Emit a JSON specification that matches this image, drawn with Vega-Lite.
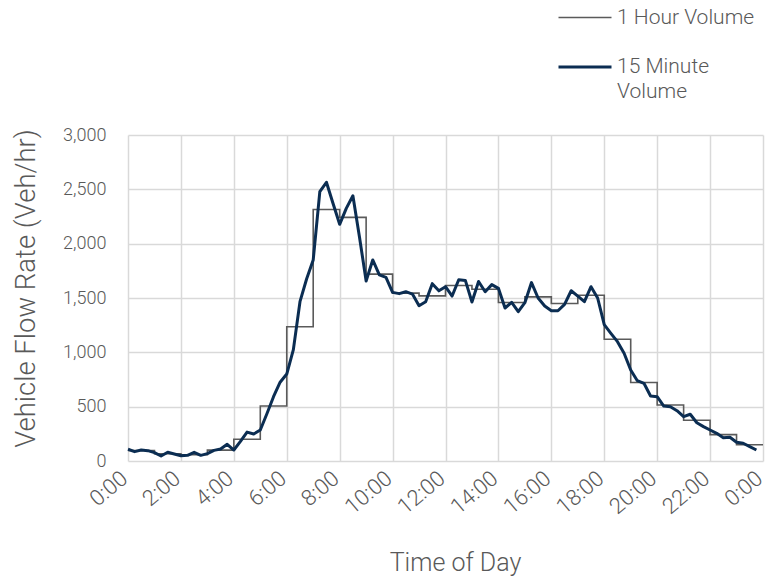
{
  "$schema": "https://vega.github.io/schema/vega-lite/v6.json",
  "width": 635,
  "height": 326,
  "autosize": {"type": "none"},
  "padding": {"left": 128, "top": 135, "right": 5, "bottom": 118},
  "background": "white",
  "config": {
    "view": {"stroke": null},
    "font": "Roboto",
    "style": {"guide-label": {"lineHeight": 25}},
    "axis": {
      "labelColor": "#595959",
      "titleColor": "#595959",
      "labelFont": "Roboto",
      "titleFont": "Roboto",
      "labelFontWeight": 300,
      "titleFontWeight": 300,
      "gridColor": "#d9d9d9",
      "gridWidth": 1.5,
      "domain": false,
      "ticks": false
    },
    "legend": {
      "labelColor": "#595959",
      "labelFont": "Roboto",
      "labelFontWeight": 300
    }
  },
  "datasets": {
    "hourly": [
      {"hour": 0, "value": 97}, {"hour": 1, "value": 67}, {"hour": 2, "value": 58}, {"hour": 3, "value": 100},
      {"hour": 4, "value": 200}, {"hour": 5, "value": 506}, {"hour": 6, "value": 1236}, {"hour": 7, "value": 2315},
      {"hour": 8, "value": 2242}, {"hour": 9, "value": 1720}, {"hour": 10, "value": 1545}, {"hour": 11, "value": 1520},
      {"hour": 12, "value": 1615}, {"hour": 13, "value": 1580}, {"hour": 14, "value": 1458}, {"hour": 15, "value": 1510},
      {"hour": 16, "value": 1450}, {"hour": 17, "value": 1525}, {"hour": 18, "value": 1120}, {"hour": 19, "value": 722},
      {"hour": 20, "value": 515}, {"hour": 21, "value": 375}, {"hour": 22, "value": 243}, {"hour": 23, "value": 150},
      {"hour": 24, "value": 150}
    ],
    "quarter": [
      {"hour": 0, "value": 108}, {"hour": 0.25, "value": 86}, {"hour": 0.5, "value": 101}, {"hour": 0.75, "value": 95},
      {"hour": 1, "value": 77}, {"hour": 1.25, "value": 46}, {"hour": 1.5, "value": 80}, {"hour": 1.75, "value": 64},
      {"hour": 2, "value": 49}, {"hour": 2.25, "value": 52}, {"hour": 2.5, "value": 80}, {"hour": 2.75, "value": 52},
      {"hour": 3, "value": 68}, {"hour": 3.25, "value": 98}, {"hour": 3.5, "value": 110}, {"hour": 3.75, "value": 154},
      {"hour": 4, "value": 101}, {"hour": 4.25, "value": 180}, {"hour": 4.5, "value": 266}, {"hour": 4.75, "value": 248},
      {"hour": 5, "value": 285}, {"hour": 5.25, "value": 435}, {"hour": 5.5, "value": 592}, {"hour": 5.75, "value": 725},
      {"hour": 6, "value": 800}, {"hour": 6.25, "value": 1025}, {"hour": 6.5, "value": 1466}, {"hour": 6.75, "value": 1675},
      {"hour": 7, "value": 1850}, {"hour": 7.25, "value": 2478}, {"hour": 7.5, "value": 2565}, {"hour": 7.75, "value": 2370},
      {"hour": 8, "value": 2178}, {"hour": 8.25, "value": 2325}, {"hour": 8.5, "value": 2441}, {"hour": 8.75, "value": 2060},
      {"hour": 9, "value": 1656}, {"hour": 9.25, "value": 1850}, {"hour": 9.5, "value": 1712}, {"hour": 9.75, "value": 1690},
      {"hour": 10, "value": 1552}, {"hour": 10.25, "value": 1540}, {"hour": 10.5, "value": 1558}, {"hour": 10.75, "value": 1536},
      {"hour": 11, "value": 1429}, {"hour": 11.25, "value": 1466}, {"hour": 11.5, "value": 1632}, {"hour": 11.75, "value": 1566},
      {"hour": 12, "value": 1604}, {"hour": 12.25, "value": 1518}, {"hour": 12.5, "value": 1668}, {"hour": 12.75, "value": 1662},
      {"hour": 13, "value": 1463}, {"hour": 13.25, "value": 1652}, {"hour": 13.5, "value": 1558}, {"hour": 13.75, "value": 1623},
      {"hour": 14, "value": 1589}, {"hour": 14.25, "value": 1408}, {"hour": 14.5, "value": 1460}, {"hour": 14.75, "value": 1374},
      {"hour": 15, "value": 1457}, {"hour": 15.25, "value": 1642}, {"hour": 15.5, "value": 1500}, {"hour": 15.75, "value": 1426},
      {"hour": 16, "value": 1383}, {"hour": 16.25, "value": 1383}, {"hour": 16.5, "value": 1442}, {"hour": 16.75, "value": 1567},
      {"hour": 17, "value": 1518}, {"hour": 17.25, "value": 1466}, {"hour": 17.5, "value": 1604}, {"hour": 17.75, "value": 1500},
      {"hour": 18, "value": 1255}, {"hour": 18.25, "value": 1175}, {"hour": 18.5, "value": 1098}, {"hour": 18.75, "value": 991},
      {"hour": 19, "value": 837}, {"hour": 19.25, "value": 739}, {"hour": 19.5, "value": 715}, {"hour": 19.75, "value": 598},
      {"hour": 20, "value": 592}, {"hour": 20.25, "value": 506}, {"hour": 20.5, "value": 500}, {"hour": 20.75, "value": 463},
      {"hour": 21, "value": 408}, {"hour": 21.25, "value": 430}, {"hour": 21.5, "value": 352}, {"hour": 21.75, "value": 316},
      {"hour": 22, "value": 285}, {"hour": 22.25, "value": 255}, {"hour": 22.5, "value": 214}, {"hour": 22.75, "value": 218},
      {"hour": 23, "value": 172}, {"hour": 23.25, "value": 163}, {"hour": 23.5, "value": 132}, {"hour": 23.75, "value": 101}
    ]
  },
  "encoding": {
    "x": {
      "field": "hour", "type": "quantitative",
      "scale": {"domain": [0, 24], "nice": false, "zero": false},
      "axis": {
        "values": [0, 2, 4, 6, 8, 10, 12, 14, 16, 18, 20, 22, 24],
        "labelExpr": "(datum.value % 24) + ':00'",
        "labelAngle": -40,
        "labelAlign": "right",
        "labelBaseline": "middle",
        "labelFontSize": 22,
        "labelPadding": 14,
        "labelOffset": -4,
        "labelOverlap": false,
        "labelBound": false,
        "title": "Time of Day",
        "titleFontSize": 25,
        "titlePadding": 33,
        "titleX": 327
      }
    },
    "y": {
      "field": "value", "type": "quantitative",
      "scale": {"domain": [0, 3000], "nice": false},
      "axis": {
        "values": [0, 500, 1000, 1500, 2000, 2500, 3000],
        "format": ",.0f",
        "labelFontSize": 18,
        "labelPadding": 22,
        "title": "Vehicle Flow Rate (Veh/hr)",
        "titleFontSize": 27.5,
        "titlePadding": 22,
        "titleY": 153
      }
    },
    "color": {
      "field": "series", "type": "nominal",
      "scale": {"domain": ["1 Hour Volume", "15 Minute Volume"], "range": ["#5a5a5a", "#0b2d52"]},
      "legend": {
        "title": null,
        "orient": "none",
        "legendX": 429,
        "legendY": -145,
        "symbolType": "stroke",
        "symbolSize": 2809,
        "labelFontSize": 21,
        "labelOffset": 4,
        "rowPadding": 11,
        "labelExpr": "datum.label == '15 Minute Volume' ? ['15 Minute', 'Volume'] : datum.label"
      }
    },
    "strokeWidth": {
      "field": "series", "type": "nominal",
      "scale": {"domain": ["1 Hour Volume", "15 Minute Volume"], "range": [1.6, 3]},
      "legend": {
        "title": null,
        "orient": "none",
        "legendX": 429,
        "legendY": -145,
        "symbolType": "stroke",
        "symbolSize": 2809,
        "labelFontSize": 21,
        "labelOffset": 4,
        "rowPadding": 11,
        "labelExpr": "datum.label == '15 Minute Volume' ? ['15 Minute', 'Volume'] : datum.label"
      }
    }
  },
  "layer": [
    {
      "data": {"name": "hourly"},
      "transform": [{"calculate": "'1 Hour Volume'", "as": "series"}],
      "mark": {"type": "line", "interpolate": "step-after"}
    },
    {
      "data": {"name": "quarter"},
      "transform": [{"calculate": "'15 Minute Volume'", "as": "series"}],
      "mark": {"type": "line", "strokeJoin": "round"}
    }
  ]
}
